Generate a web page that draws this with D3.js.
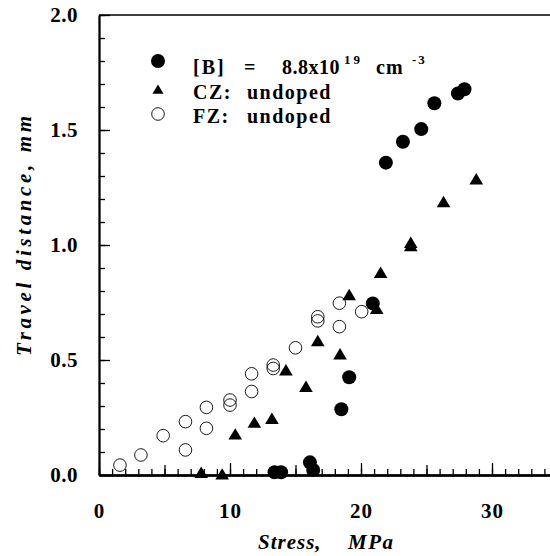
<!DOCTYPE html>
<html>
<head>
<meta charset="utf-8">
<script src="https://cdn.jsdelivr.net/npm/d3@7"></script>
<style>
  html, body { margin: 0; padding: 0; background: #fff; }
  svg { display: block; }
</style>
</head>
<body>
<svg id="chart" width="550" height="556"></svg>
<script>
// ---- Data ----
// [B] = 8.8e19 cm^-3 (filled circles)
const bStress = [13.4, 13.9, 16.1, 16.35, 18.5, 19.1, 20.9, 21.9, 23.2, 24.6, 25.6, 27.4, 27.9];
const bTravel = [0.012, 0.012, 0.055, 0.022, 0.286, 0.425, 0.746, 1.358, 1.449, 1.504, 1.616, 1.659, 1.677];
// CZ: undoped (filled triangles)
const czStress = [7.8, 9.4, 10.4, 11.86, 13.2, 14.27, 15.8, 16.7, 18.4, 19.1, 21.2, 21.5, 23.8, 23.8, 26.3, 28.8];
const czTravel = [0.007, 0.0, 0.174, 0.225, 0.242, 0.453, 0.381, 0.580, 0.522, 0.780, 0.720, 0.877, 1.007, 0.993, 1.184, 1.283];
// FZ: undoped (open circles)
const fzStress = [1.6, 3.2, 4.9, 6.6, 6.6, 8.2, 8.2, 10.0, 10.0, 11.65, 11.65, 13.3, 13.3, 15.0, 16.7, 16.7, 18.35, 18.35, 20.05];
const fzTravel = [0.043, 0.087, 0.171, 0.232, 0.109, 0.294, 0.203, 0.326, 0.304, 0.440, 0.363, 0.478, 0.463, 0.553, 0.688, 0.670, 0.747, 0.645, 0.710];

const xMajor = [0, 10, 20, 30];
const xMid = [5, 15, 25];
const xMinor = d3.range(0, 35, 1);
const yMajor = [0, 0.5, 1.0, 1.5, 2.0];
const yMinor = d3.range(0, 2.0001, 0.1);
const xLabels = ["0", "10", "20", "30"];
const yLabels = ["0.0", "0.5", "1.0", "1.5", "2.0"];

const FONT = "Liberation Serif";

// ---- Layout ----
const svg = d3.select("#chart");
const x = d3.scaleLinear().domain([0, 35]).range([99, 99 + 35 * 13.1]);
const y = d3.scaleLinear().domain([0, 2.0]).range([475, 15]);

// top border
svg.append("line").attr("x1", 99).attr("x2", 550).attr("y1", y(2)).attr("y2", y(2))
  .attr("stroke", "#000").attr("stroke-width", 1.6);

function styleAxis(g, w) {
  g.attr("font-family", FONT).attr("font-weight", "bold");
  g.select(".domain").attr("stroke-width", w);
  g.selectAll(".tick line").attr("stroke-width", 1.3);
}
// Y axis
const yMinorAxis = svg.append("g").attr("transform", "translate(99,0)")
  .call(d3.axisLeft(y).tickValues(yMinor).tickSize(-6).tickSizeOuter(0).tickFormat(""));
styleAxis(yMinorAxis, 1.8);
const yMajorAxis = svg.append("g").attr("transform", "translate(99,0)")
  .call(d3.axisLeft(y).tickValues(yMajor).tickSize(-11).tickSizeOuter(0).tickPadding(21)
    .tickFormat((d, i) => yLabels[i]));
styleAxis(yMajorAxis, 1.8);
yMajorAxis.selectAll("text").attr("font-size", 21).attr("font-family", FONT).attr("font-weight", "bold")
  .attr("letter-spacing", 0.5);

// X axis
const xg = svg.append("g").attr("transform", "translate(0,475)");
const xMinorAxis = xg.append("g")
  .call(d3.axisBottom(x).tickValues(xMinor).tickSize(-6).tickSizeOuter(0).tickFormat(""));
styleAxis(xMinorAxis, 2.2);
const xMidAxis = xg.append("g")
  .call(d3.axisBottom(x).tickValues(xMid).tickSize(-10).tickSizeOuter(0).tickFormat(""));
styleAxis(xMidAxis, 2.2);
const xMajorAxis = xg.append("g")
  .call(d3.axisBottom(x).tickValues(xMajor).tickSize(-12).tickSizeOuter(0).tickPadding(28)
    .tickFormat((d, i) => xLabels[i]));
styleAxis(xMajorAxis, 2.2);
xMajorAxis.selectAll("text").attr("font-size", 21).attr("font-family", FONT).attr("font-weight", "bold")
  .attr("letter-spacing", 1);

// text helper: every piece is its own <text> element
function label(x0, y0, str, size, opts = {}) {
  const t = svg.append("text").attr("x", x0).attr("y", y0)
    .attr("font-family", FONT).attr("font-weight", "bold").attr("font-size", size)
    .attr("fill", "#000").text(str);
  if (opts.italic) t.attr("font-style", "italic");
  if (opts.ls) t.attr("letter-spacing", opts.ls);
  return t;
}

// Axis titles
label(258, 549, "Stress,", 21, {italic: true, ls: 1});
label(348, 549, "MPa", 21, {italic: true, ls: 1.5});
svg.append("text").attr("transform", "translate(31,236) rotate(-90)").attr("text-anchor", "middle")
  .attr("font-family", FONT).attr("font-weight", "bold")
  .attr("font-size", 21).attr("font-style", "italic")
  .attr("textLength", 240).attr("lengthAdjust", "spacing")
  .text("Travel distance, mm");

// ---- Marks ----
const fzData = fzStress.map((s, i) => ({s, t: fzTravel[i]}));
const czData = czStress.map((s, i) => ({s, t: czTravel[i]}));
const bData = bStress.map((s, i) => ({s, t: bTravel[i]}));

function triPath(cx, cy, h) {
  const w = h * 0.62;
  return `M${cx},${cy - h * 0.62}L${cx + w},${cy + h * 0.42}L${cx - w},${cy + h * 0.42}Z`;
}

svg.append("g").selectAll("circle").data(fzData).join("circle")
  .attr("cx", d => x(d.s)).attr("cy", d => y(d.t)).attr("r", 6.3)
  .attr("fill", "none").attr("stroke", "#000").attr("stroke-width", 0.9);

svg.append("g").selectAll("path").data(czData).join("path")
  .attr("d", d => triPath(x(d.s), y(d.t), 11)).attr("fill", "#000");

svg.append("g").selectAll("circle").data(bData).join("circle")
  .attr("cx", d => x(d.s)).attr("cy", d => y(d.t)).attr("r", 7)
  .attr("fill", "#000");

// ---- Legend ----
svg.append("circle").attr("cx", 158).attr("cy", 61).attr("r", 7).attr("fill", "#000");
svg.append("path").attr("d", triPath(158, 90, 9)).attr("fill", "#000");
svg.append("circle").attr("cx", 158).attr("cy", 114).attr("r", 6.3).attr("fill", "none")
  .attr("stroke", "#000").attr("stroke-width", 0.9);

label(193, 74, "[B]", 20, {ls: 2});
label(244, 74, "=", 20);
label(282, 74, "8.8x10", 20, {ls: 0.5});
label(344, 64, "19", 13, {ls: 3});
label(376, 74, "cm", 20, {ls: 1});
label(412, 64, "-3", 13, {ls: 2});
label(193, 99, "CZ:", 20, {ls: 1.5});
label(247, 99, "undoped", 20, {ls: 1.5});
label(193, 123, "FZ:", 20, {ls: 1.5});
label(247, 123, "undoped", 20, {ls: 1.5});
</script>
</body>
</html>
